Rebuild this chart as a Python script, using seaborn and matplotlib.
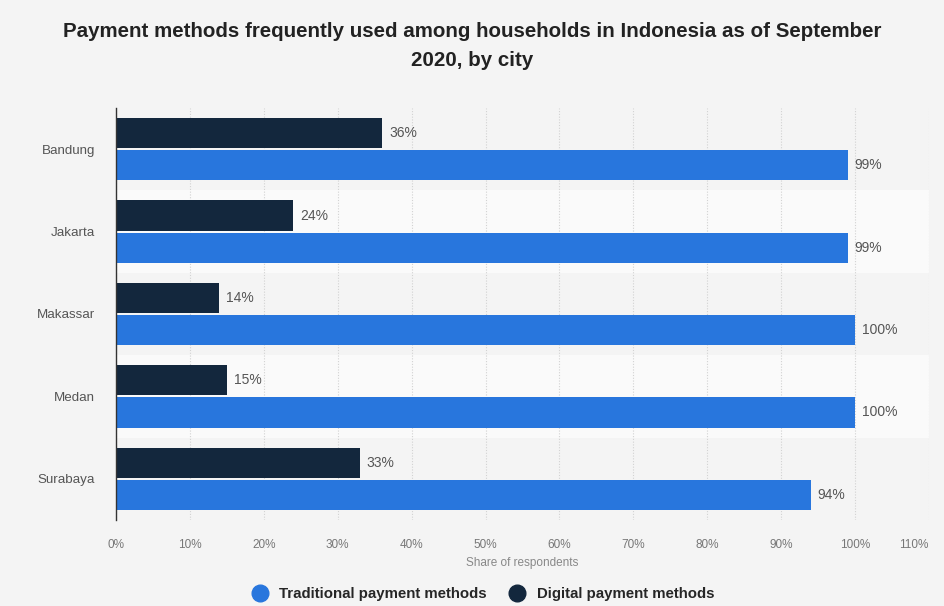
import matplotlib
matplotlib.use("Agg")
import matplotlib.pyplot as plt
from matplotlib.lines import Line2D
from matplotlib.ticker import FuncFormatter, MultipleLocator
import seaborn as sns
import pandas as pd

cities = ["Bandung", "Jakarta", "Makassar", "Medan", "Surabaya"]
digital = [36, 24, 14, 15, 33]
traditional = [99, 99, 100, 100, 94]
series_names = ["Digital payment methods", "Traditional payment methods"]
title = "Payment methods frequently used among households in Indonesia as of September\n2020, by city"
xlabel = "Share of respondents"
x_max = 110

colors = {"Digital payment methods": "#13273d", "Traditional payment methods": "#2876dd"}

df = pd.DataFrame({
    "city": cities * 2,
    "value": digital + traditional,
    "method": [series_names[0]] * len(cities) + [series_names[1]] * len(cities),
})

sns.set_theme(style="white")
plt.rcParams["font.family"] = ["Liberation Sans", "DejaVu Sans"]

fig = plt.figure(figsize=(9.44, 6.06), dpi=100)
fig.patch.set_facecolor("#f4f4f4")
ax = fig.add_axes([0.1229, 0.1419, 0.984 - 0.1229, 0.8218 - 0.1419])
ax.set_facecolor("#f4f4f4")

for i in range(len(cities)):
    if i % 2 == 1:
        ax.axhspan(i - 0.5, i + 0.5, color="#fafafa", zorder=0, lw=0)

sns.barplot(data=df, y="city", x="value", hue="method", hue_order=series_names,
            palette=colors, orient="h", width=0.78, gap=0.06, ax=ax, legend=False,
            saturation=1, zorder=3, linewidth=0, edgecolor="none")

for cont in ax.containers:
    labels = [f"{int(round(b.get_width()))}%" for b in cont]
    ax.bar_label(cont, labels=labels, padding=5, color="#555555", fontsize=10)

ax.set_xlim(0, x_max)
ax.set_ylim(len(cities) - 0.5, -0.5)
ax.xaxis.set_major_locator(MultipleLocator(10))
ax.xaxis.set_major_formatter(FuncFormatter(lambda v, p: "" if v >= x_max else f"{int(v)}%"))
ax.annotate(f"{x_max}%", xy=(x_max, 0), xycoords=("data", "axes fraction"),
            xytext=(-11, -14), textcoords="offset points", ha="center", va="top",
            fontsize=8.5, color="#777777")
ax.grid(axis="x", color="#d2d2d2", linestyle=(0, (1, 1.5)), linewidth=0.8, zorder=1)
ax.set_axisbelow(True)
for s in ["top", "right", "bottom"]:
    ax.spines[s].set_visible(False)
ax.spines["left"].set_color("#333333")
ax.spines["left"].set_linewidth(1.0)
ax.spines["left"].set_zorder(5)
ax.tick_params(axis="x", length=0, labelsize=8.5, labelcolor="#777777", pad=14)
ax.tick_params(axis="y", length=0, labelsize=9.6, labelcolor="#555555", pad=15)
ax.set_ylabel("")
ax.set_xlabel(xlabel, fontsize=8.5, color="#888888", labelpad=4)

fig.suptitle(title, fontsize=14.8, fontweight="bold", color="#222222", y=0.963, linespacing=1.65)

handles = [Line2D([], [], marker="o", linestyle="", markersize=12, color=colors[series_names[1]]),
           Line2D([], [], marker="o", linestyle="", markersize=12, color=colors[series_names[0]])]
fig.legend(handles, [series_names[1], series_names[0]], loc="center", bbox_to_anchor=(0.508, 0.02),
           ncol=2, frameon=False, handletextpad=0.3, columnspacing=1.0,
           prop={"weight": "bold", "size": 10.8})

fig.savefig("out.png", dpi=100, facecolor=fig.get_facecolor())
